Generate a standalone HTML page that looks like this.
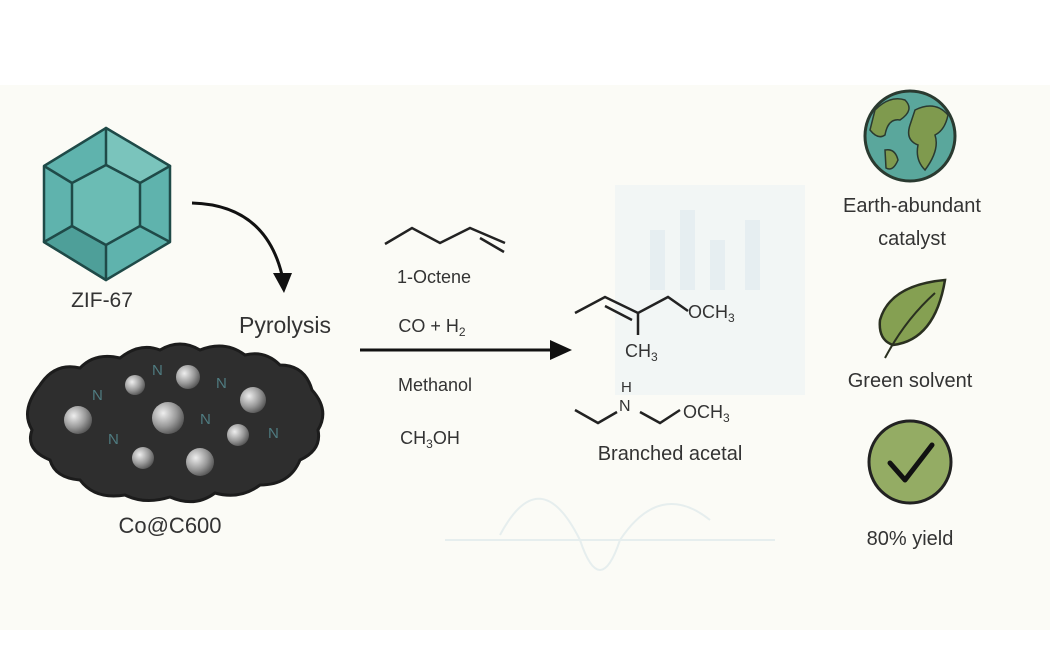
<!DOCTYPE html>
<html><head><style>
body{margin:0;background:#fff;}
svg{display:block;font-family:"Liberation Sans",Arial,sans-serif;}
</style></head><body>
<svg width="1050" height="650" viewBox="0 0 1050 650">
<defs>
<radialGradient id="ball" cx="0.35" cy="0.35" r="0.7"><stop offset="0" stop-color="#eee"/><stop offset="0.6" stop-color="#999"/><stop offset="1" stop-color="#555"/></radialGradient>
</defs>
<rect x="0" y="0" width="1050" height="650" fill="#fff"/>
<rect x="0" y="85" width="1050" height="545" fill="#fbfbf6"/>
<!-- faint background chart -->
<rect x="615" y="185" width="190" height="210" fill="#f2f6f5"/>
<g fill="#e6eef1"><rect x="650" y="230" width="15" height="60"/><rect x="680" y="210" width="15" height="80"/><rect x="710" y="240" width="15" height="50"/><rect x="745" y="220" width="15" height="70"/></g>
<g stroke="#e6eeee" stroke-width="2" fill="none"><line x1="445" y1="540" x2="775" y2="540"/><path d="M500 535 Q540 460 580 540 Q600 600 620 540 Q660 480 710 520"/></g>
<!-- hexagon -->
<g stroke="#1f4a48" stroke-width="2.5" stroke-linejoin="round">
<polygon points="106,128 170,166 170,242 106,280 44,242 44,166" fill="#5fb3ad"/>
<polygon points="106,128 170,166 140,183 106,165" fill="#7ac4bc"/>
<polygon points="44,242 106,280 106,245 72,226" fill="#4e9f99"/>
<polygon points="106,165 140,183 140,226 106,245 72,226 72,183" fill="#6bbcb4"/>
<line x1="44" y1="166" x2="72" y2="183"/><line x1="170" y1="242" x2="140" y2="226"/>
</g>
<text x="102" y="307" font-size="21" fill="#333" text-anchor="middle">ZIF-67</text>
<!-- curved arrow -->
<path d="M192 203 Q265 205 282 275" fill="none" stroke="#111" stroke-width="3"/>
<polygon points="273,273 292,273 284,293" fill="#111"/>
<text x="285" y="333" font-size="23" fill="#333" text-anchor="middle">Pyrolysis</text>
<!-- blob -->
<path d="M40 385 Q55 362 80 368 Q95 352 120 358 Q140 342 160 350 Q180 338 200 350 Q225 340 245 355 Q265 350 280 365 Q305 365 312 390 Q330 410 318 430 Q322 450 300 460 Q290 485 260 485 Q240 500 215 493 Q195 508 170 497 Q145 505 125 495 Q95 500 80 480 Q55 478 50 460 Q25 450 32 430 Q20 410 40 385Z" fill="#2e2e2e" stroke="#1c1c1c" stroke-width="3"/>
<g fill="url(#ball)">
<circle cx="78" cy="420" r="14"/><circle cx="135" cy="385" r="10"/><circle cx="188" cy="377" r="12"/><circle cx="253" cy="400" r="13"/><circle cx="168" cy="418" r="16"/><circle cx="238" cy="435" r="11"/><circle cx="143" cy="458" r="11"/><circle cx="200" cy="462" r="14"/>
</g>
<g fill="#4f7b80" font-size="15">
<text x="92" y="400">N</text><text x="152" y="375">N</text><text x="216" y="388">N</text><text x="200" y="424">N</text><text x="108" y="444">N</text><text x="268" y="438">N</text>
</g>
<text x="170" y="533" font-size="22" fill="#333" text-anchor="middle">Co@C600</text>
<!-- main arrow -->
<line x1="360" y1="350" x2="552" y2="350" stroke="#111" stroke-width="3"/>
<polygon points="550,340 572,350 550,360" fill="#111"/>
<!-- octene -->
<polyline points="385,244 412,228 440,243 470,228 505,243" fill="none" stroke="#222" stroke-width="2.5"/>
<line x1="480" y1="238" x2="504" y2="252" stroke="#222" stroke-width="2.5"/>
<g font-size="18" fill="#333" text-anchor="middle">
<text x="434" y="283">1-Octene</text>
<text x="432" y="332">CO + H<tspan font-size="12" dy="4">2</tspan></text>
<text x="435" y="391">Methanol</text>
<text x="430" y="444">CH<tspan font-size="12" dy="4">3</tspan><tspan dy="-4">OH</tspan></text>
</g>
<!-- product 1 -->
<g fill="none" stroke="#222" stroke-width="2.5">
<polyline points="575,313 605,297 638,313 668,297 688,311"/>
<line x1="605" y1="306" x2="632" y2="320"/>
<line x1="638" y1="313" x2="638" y2="335"/>
<polyline points="575,410 598,423 617,412"/>
<polyline points="640,412 660,423 680,410"/>
</g>
<g font-size="18" fill="#333">
<text x="688" y="318">OCH<tspan font-size="12" dy="4">3</tspan></text>
<text x="625" y="357">CH<tspan font-size="12" dy="4">3</tspan></text>
<text x="621" y="392" font-size="15">H</text>
<text x="619" y="411" font-size="16">N</text>
<text x="683" y="418">OCH<tspan font-size="12" dy="4">3</tspan></text>
<text x="670" y="460" text-anchor="middle" font-size="20">Branched acetal</text>
</g>
<!-- globe -->
<circle cx="910" cy="136" r="45" fill="#5aa79c" stroke="#2a3a30" stroke-width="3"/>
<path d="M875 110 Q890 95 905 100 Q915 110 900 120 Q888 118 885 135 Q878 140 870 130Z" fill="#7f9a4e" stroke="#2a3a30" stroke-width="1.5"/>
<path d="M915 110 Q935 100 948 115 Q945 130 935 135 Q940 150 925 170 Q915 160 918 145 Q905 140 910 125Z" fill="#7f9a4e" stroke="#2a3a30" stroke-width="1.5"/>
<path d="M885 150 Q895 148 898 160 Q893 172 886 168Z" fill="#7f9a4e" stroke="#2a3a30" stroke-width="1.5"/>
<g font-size="20" fill="#333" text-anchor="middle">
<text x="912" y="212">Earth-abundant</text>
<text x="912" y="245">catalyst</text>
<text x="910" y="387">Green solvent</text>
<text x="910" y="545">80% yield</text>
</g>
<!-- leaf -->
<path d="M945 280 Q890 285 880 320 Q878 340 893 345 Q935 340 945 280Z" fill="#85a052" stroke="#2a3020" stroke-width="2.5"/>
<path d="M935 293 Q905 320 885 358" fill="none" stroke="#2a3020" stroke-width="2"/>
<!-- check -->
<circle cx="910" cy="462" r="41" fill="#94ac64" stroke="#222" stroke-width="3"/>
<polyline points="890,463 905,480 932,445" fill="none" stroke="#111" stroke-width="5" stroke-linecap="round" stroke-linejoin="round"/>
</svg>
</body></html>
